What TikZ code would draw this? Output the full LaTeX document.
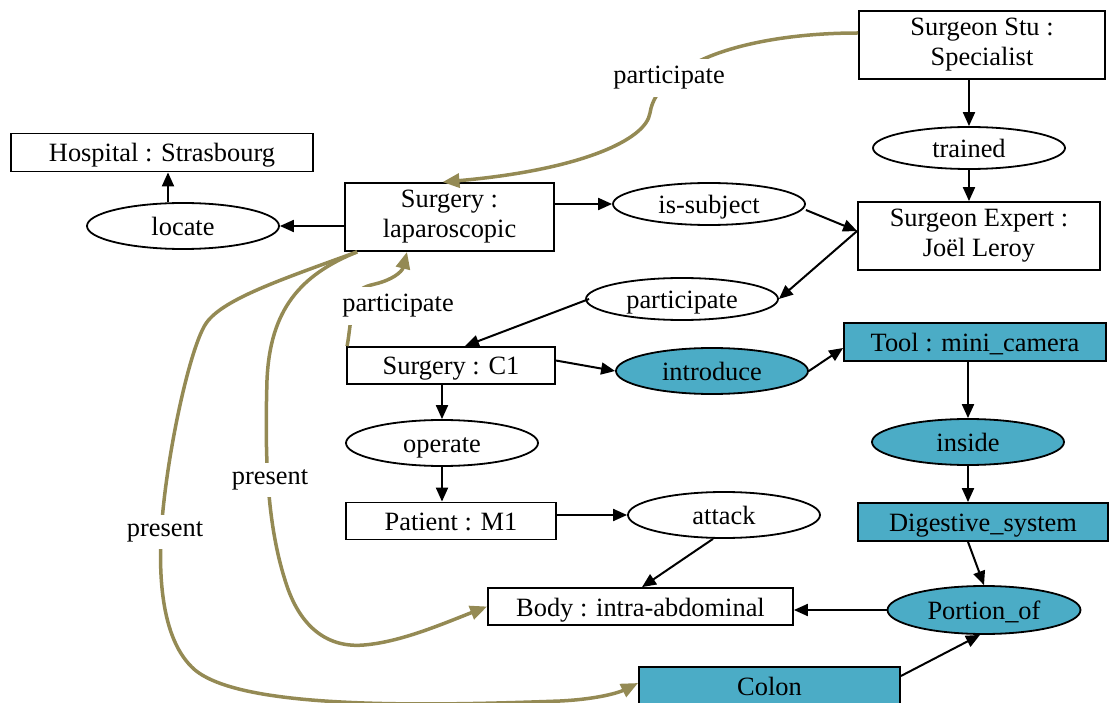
\documentclass[tikz,border=0pt]{standalone}
\usepackage{fontspec}
\setmainfont{Liberation Serif}
\usetikzlibrary{arrows.meta,shapes.geometric}
\definecolor{cellteal}{RGB}{75,172,198}
\definecolor{linkolive}{RGB}{148,138,84}
\begin{document}
\begin{tikzpicture}[x=1pt,y=-1pt,
  every node/.style={font=\fontsize{26.4}{30}\selectfont},
  oneline/.style={text height=19pt, text depth=0pt},
  box/.style={draw, line width=1.8pt, rectangle, inner sep=0pt, align=center},
  oval/.style={draw, line width=1.8pt, ellipse, inner sep=0pt, oneline,
    minimum width=192pt, minimum height=46pt},
  hl/.style={fill=cellteal},
  arr/.style={line width=2pt, -{Triangle[length=14pt,width=12pt]}},
  oarr/.style={draw=linkolive, line width=3.5pt, -{Triangle[length=17pt,width=14pt]}},
  elabel/.style={fill=white, inner xsep=3pt, inner ysep=7pt}
]
\useasboundingbox (0,0) rectangle (1109,703);

% concept boxes
\node[box, minimum width=246pt, minimum height=68pt] (stu) at (982,45) {Surgeon Stu :\\Specialist};
\node[box, minimum width=242pt, minimum height=68pt] (expert) at (979,236) {Surgeon Expert :\\Joël Leroy};
\node[box, oneline, minimum width=302pt, minimum height=38pt] (hosp) at (162,152.5) {Hospital : Strasbourg};
\node[box, minimum width=209pt, minimum height=68pt] (lap) at (449.5,217) {Surgery :\\laparoscopic};
\node[box, oneline, minimum width=208pt, minimum height=37pt] (c1) at (451,365.5) {Surgery : C1};
\node[box, oneline, minimum width=210pt, minimum height=37pt] (patient) at (451,521) {Patient : M1};
\node[box, oneline, minimum width=305pt, minimum height=37pt] (body) at (640.5,606.5) {Body : intra-abdominal};
\node[box, oneline, hl, minimum width=262pt, minimum height=38pt] (tool) at (975,342) {Tool : mini\_camera};
\node[box, oneline, hl, minimum width=250pt, minimum height=38pt] (dig) at (983,522) {Digestive\_system};
\node[box, oneline, hl, minimum width=261pt, minimum height=38pt] (colon) at (769.5,686) {Colon};

% relation ovals
\node[oval, minimum height=42pt] (trained) at (969,148) {trained};
\node[oval, minimum height=42pt] (issub) at (709,204) {is-subject};
\node[oval, minimum height=42pt] (part) at (682,299) {participate};
\node[oval] (locate) at (183,226) {locate};
\node[oval, hl] (intro) at (712,371) {introduce};
\node[oval, hl] (inside) at (968,442) {inside};
\node[oval] (operate) at (442,443) {operate};
\node[oval] (attack) at (724,515) {attack};
\node[oval, hl, minimum width=193pt, minimum height=48pt] (portion) at (984,610) {Portion\_of};

% black relation arrows
\draw[arr] (trained.north |- stu.south) -- (trained.north);
\draw[arr] (trained.south) -- (trained.south |- expert.north);
\draw[arr] (lap.east |- issub.west) -- (issub.west);
\draw[arr] ([yshift=-6pt]issub.east) -- ([yshift=5pt]expert.west);
\draw[arr] ([yshift=5pt]expert.west) -- (part.east);
\draw[arr] ([xshift=4pt]part.west) -- ([xshift=14pt]c1.north);
\draw[arr] (lap.west |- locate.east) -- (locate.east);
\draw[arr] ([xshift=-15pt]locate.north) -- ([xshift=-15pt]locate.north |- hosp.south);
\draw[arr] ([yshift=5pt]c1.east) -- (intro.west);
\draw[arr] (intro.east) -- ([yshift=-6pt]tool.west);
\draw[arr] (inside.north |- tool.south) -- (inside.north);
\draw[arr] (inside.south) -- (inside.south |- dig.north);
\draw[arr] (operate.north |- c1.south) -- (operate.north);
\draw[arr] (operate.south) -- (operate.south |- patient.north);
\draw[arr] (patient.east |- attack.west) -- (attack.west);
\draw[arr] ([xshift=-11pt]attack.south) -- ([xshift=1.5pt]body.north);
\draw[arr] ([xshift=-15pt]dig.south) -- (portion.north);
\draw[arr] (portion.west) -- (portion.west -| body.east);
\draw[arr] ([yshift=10pt]colon.east) -- ([xshift=-4pt]portion.south);

% olive links
\draw[oarr] ([yshift=12pt]stu.west) .. controls (780,33) and (720,48) .. (690,66)
  .. controls (660,84) and (652,100) .. (650,113)
  .. controls (646,140) and (580,170) .. ([xshift=-7pt]lap.north);
\draw[oarr] ([xshift=1pt]c1.north west) .. controls (350,330) and (350,318) .. (355,300)
  .. controls (358,290) and (362,287) .. (375,284)
  .. controls (392,280) and (402,272) .. ([xshift=-42.5pt]lap.south);
\draw[oarr] ([xshift=13pt]lap.south west) .. controls (300,275) and (270,310) .. (267,380)
  .. controls (265,450) and (266,520) .. (285,580)
  .. controls (300,630) and (330,648) .. (364,645)
  .. controls (400,642) and (440,625) .. (body.west);
\draw[oarr] ([xshift=13pt]lap.south west) .. controls (280,280) and (220,300) .. (205,325)
  .. controls (190,350) and (170,440) .. (163,510)
  .. controls (157,570) and (160,640) .. (195,670)
  .. controls (240,707) and (400,707) .. (560,701)
  .. controls (600,699) and (620,692) .. ([yshift=3pt]colon.west);

% labels on the olive links
\node[elabel] (lpart1) at (669,78) {participate};
\node[elabel] (lpart2) at (398,306) {participate};
\node[elabel] (lpres1) at (270,480) {present};
\node[elabel] (lpres2) at (165,532) {present};
\end{tikzpicture}
\end{document}
